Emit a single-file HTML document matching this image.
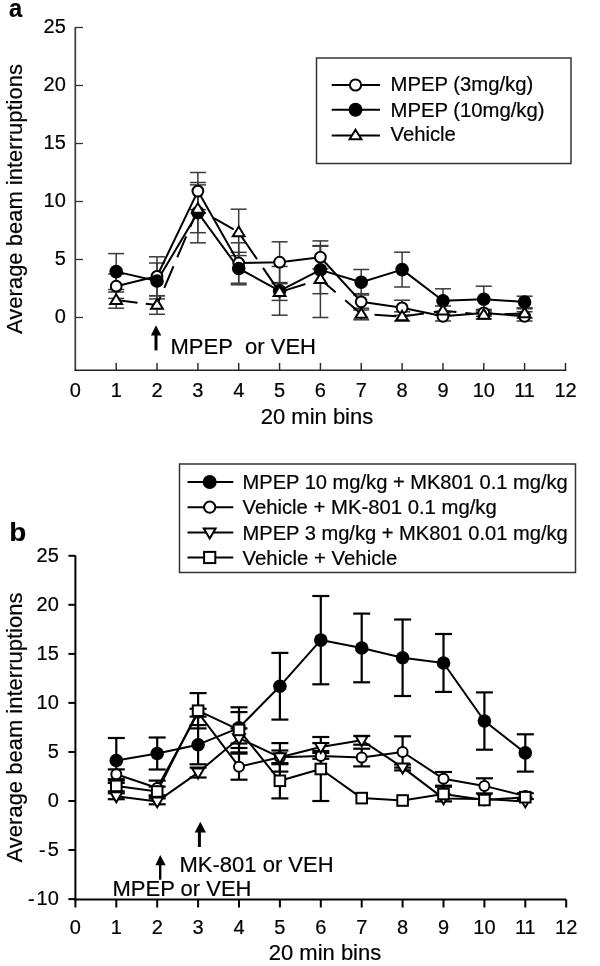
<!DOCTYPE html>
<html><head><meta charset="utf-8"><title>Figure</title>
<style>
html,body{margin:0;padding:0;background:#fff;}
body{width:600px;height:966px;overflow:hidden;}
svg{display:block;filter:grayscale(100%);}
text{font-family:"Liberation Sans", sans-serif;fill:#000;stroke:#000;stroke-width:0.2px;}
</style></head>
<body>
<svg width="600" height="966" viewBox="0 0 600 966">
<rect width="600" height="966" fill="#fff"/>
<g id="panelA">
<line x1="75.3" y1="27.0" x2="75.3" y2="371.0" stroke="#3a3a3a" stroke-width="1.7" />
<line x1="74.5" y1="370.3" x2="566.2" y2="370.3" stroke="#222" stroke-width="1.5" />
<line x1="75.3" y1="27.5" x2="83.0" y2="27.5" stroke="#333" stroke-width="1.3" />
<text x="65.8" y="33.1" font-size="20" text-anchor="end" font-weight="normal" >25</text>
<line x1="75.3" y1="85.5" x2="83.0" y2="85.5" stroke="#333" stroke-width="1.3" />
<text x="65.8" y="91.1" font-size="20" text-anchor="end" font-weight="normal" >20</text>
<line x1="75.3" y1="143.5" x2="83.0" y2="143.5" stroke="#333" stroke-width="1.3" />
<text x="65.8" y="149.1" font-size="20" text-anchor="end" font-weight="normal" >15</text>
<line x1="75.3" y1="201.5" x2="83.0" y2="201.5" stroke="#333" stroke-width="1.3" />
<text x="65.8" y="207.1" font-size="20" text-anchor="end" font-weight="normal" >10</text>
<line x1="75.3" y1="259.5" x2="83.0" y2="259.5" stroke="#333" stroke-width="1.3" />
<text x="65.8" y="265.1" font-size="20" text-anchor="end" font-weight="normal" >5</text>
<line x1="75.3" y1="317.5" x2="83.0" y2="317.5" stroke="#333" stroke-width="1.3" />
<text x="65.8" y="323.1" font-size="20" text-anchor="end" font-weight="normal" >0</text>
<text x="75.3" y="396.6" font-size="20" text-anchor="middle" font-weight="normal" >0</text>
<line x1="116.2" y1="363.0" x2="116.2" y2="370.3" stroke="#222" stroke-width="1.4" />
<text x="116.2" y="396.6" font-size="20" text-anchor="middle" font-weight="normal" >1</text>
<line x1="157.0" y1="363.0" x2="157.0" y2="370.3" stroke="#222" stroke-width="1.4" />
<text x="157.0" y="396.6" font-size="20" text-anchor="middle" font-weight="normal" >2</text>
<line x1="197.9" y1="363.0" x2="197.9" y2="370.3" stroke="#222" stroke-width="1.4" />
<text x="197.9" y="396.6" font-size="20" text-anchor="middle" font-weight="normal" >3</text>
<line x1="238.7" y1="363.0" x2="238.7" y2="370.3" stroke="#222" stroke-width="1.4" />
<text x="238.7" y="396.6" font-size="20" text-anchor="middle" font-weight="normal" >4</text>
<line x1="279.6" y1="363.0" x2="279.6" y2="370.3" stroke="#222" stroke-width="1.4" />
<text x="279.6" y="396.6" font-size="20" text-anchor="middle" font-weight="normal" >5</text>
<line x1="320.4" y1="363.0" x2="320.4" y2="370.3" stroke="#222" stroke-width="1.4" />
<text x="320.4" y="396.6" font-size="20" text-anchor="middle" font-weight="normal" >6</text>
<line x1="361.2" y1="363.0" x2="361.2" y2="370.3" stroke="#222" stroke-width="1.4" />
<text x="361.2" y="396.6" font-size="20" text-anchor="middle" font-weight="normal" >7</text>
<line x1="402.1" y1="363.0" x2="402.1" y2="370.3" stroke="#222" stroke-width="1.4" />
<text x="402.1" y="396.6" font-size="20" text-anchor="middle" font-weight="normal" >8</text>
<line x1="443.0" y1="363.0" x2="443.0" y2="370.3" stroke="#222" stroke-width="1.4" />
<text x="443.0" y="396.6" font-size="20" text-anchor="middle" font-weight="normal" >9</text>
<line x1="483.8" y1="363.0" x2="483.8" y2="370.3" stroke="#222" stroke-width="1.4" />
<text x="483.8" y="396.6" font-size="20" text-anchor="middle" font-weight="normal" >10</text>
<line x1="524.6" y1="363.0" x2="524.6" y2="370.3" stroke="#222" stroke-width="1.4" />
<text x="524.6" y="396.6" font-size="20" text-anchor="middle" font-weight="normal" >11</text>
<line x1="565.5" y1="363.0" x2="565.5" y2="370.3" stroke="#222" stroke-width="1.4" />
<text x="565.5" y="396.6" font-size="20" text-anchor="middle" font-weight="normal" >12</text>
<line x1="116.2" y1="274.0" x2="116.2" y2="298.4" stroke="#3a3a3a" stroke-width="1.5" />
<line x1="108.2" y1="274.0" x2="124.2" y2="274.0" stroke="#3a3a3a" stroke-width="1.5" />
<line x1="108.2" y1="298.4" x2="124.2" y2="298.4" stroke="#3a3a3a" stroke-width="1.5" />
<line x1="157.0" y1="256.8" x2="157.0" y2="295.8" stroke="#3a3a3a" stroke-width="1.5" />
<line x1="149.0" y1="256.8" x2="165.0" y2="256.8" stroke="#3a3a3a" stroke-width="1.5" />
<line x1="149.0" y1="295.8" x2="165.0" y2="295.8" stroke="#3a3a3a" stroke-width="1.5" />
<line x1="197.9" y1="172.5" x2="197.9" y2="209.6" stroke="#3a3a3a" stroke-width="1.5" />
<line x1="189.9" y1="172.5" x2="205.9" y2="172.5" stroke="#3a3a3a" stroke-width="1.5" />
<line x1="189.9" y1="209.6" x2="205.9" y2="209.6" stroke="#3a3a3a" stroke-width="1.5" />
<line x1="238.7" y1="242.8" x2="238.7" y2="283.2" stroke="#3a3a3a" stroke-width="1.5" />
<line x1="230.7" y1="242.8" x2="246.7" y2="242.8" stroke="#3a3a3a" stroke-width="1.5" />
<line x1="230.7" y1="283.2" x2="246.7" y2="283.2" stroke="#3a3a3a" stroke-width="1.5" />
<line x1="279.6" y1="241.8" x2="279.6" y2="282.6" stroke="#3a3a3a" stroke-width="1.5" />
<line x1="271.6" y1="241.8" x2="287.6" y2="241.8" stroke="#3a3a3a" stroke-width="1.5" />
<line x1="271.6" y1="282.6" x2="287.6" y2="282.6" stroke="#3a3a3a" stroke-width="1.5" />
<line x1="320.4" y1="245.6" x2="320.4" y2="268.8" stroke="#3a3a3a" stroke-width="1.5" />
<line x1="312.4" y1="245.6" x2="328.4" y2="245.6" stroke="#3a3a3a" stroke-width="1.5" />
<line x1="312.4" y1="268.8" x2="328.4" y2="268.8" stroke="#3a3a3a" stroke-width="1.5" />
<line x1="361.2" y1="293.7" x2="361.2" y2="310.0" stroke="#3a3a3a" stroke-width="1.5" />
<line x1="353.2" y1="293.7" x2="369.2" y2="293.7" stroke="#3a3a3a" stroke-width="1.5" />
<line x1="353.2" y1="310.0" x2="369.2" y2="310.0" stroke="#3a3a3a" stroke-width="1.5" />
<line x1="402.1" y1="300.2" x2="402.1" y2="315.3" stroke="#3a3a3a" stroke-width="1.5" />
<line x1="394.1" y1="300.2" x2="410.1" y2="300.2" stroke="#3a3a3a" stroke-width="1.5" />
<line x1="394.1" y1="315.3" x2="410.1" y2="315.3" stroke="#3a3a3a" stroke-width="1.5" />
<line x1="443.0" y1="311.7" x2="443.0" y2="321.0" stroke="#3a3a3a" stroke-width="1.5" />
<line x1="435.0" y1="311.7" x2="451.0" y2="311.7" stroke="#3a3a3a" stroke-width="1.5" />
<line x1="435.0" y1="321.0" x2="451.0" y2="321.0" stroke="#3a3a3a" stroke-width="1.5" />
<line x1="483.8" y1="309.4" x2="483.8" y2="316.3" stroke="#3a3a3a" stroke-width="1.5" />
<line x1="475.8" y1="309.4" x2="491.8" y2="309.4" stroke="#3a3a3a" stroke-width="1.5" />
<line x1="475.8" y1="316.3" x2="491.8" y2="316.3" stroke="#3a3a3a" stroke-width="1.5" />
<line x1="524.6" y1="311.7" x2="524.6" y2="321.0" stroke="#3a3a3a" stroke-width="1.5" />
<line x1="516.6" y1="311.7" x2="532.6" y2="311.7" stroke="#3a3a3a" stroke-width="1.5" />
<line x1="516.6" y1="321.0" x2="532.6" y2="321.0" stroke="#3a3a3a" stroke-width="1.5" />
<line x1="116.2" y1="253.6" x2="116.2" y2="289.5" stroke="#3a3a3a" stroke-width="1.5" />
<line x1="108.2" y1="253.6" x2="124.2" y2="253.6" stroke="#3a3a3a" stroke-width="1.5" />
<line x1="108.2" y1="289.5" x2="124.2" y2="289.5" stroke="#3a3a3a" stroke-width="1.5" />
<line x1="157.0" y1="263.0" x2="157.0" y2="298.9" stroke="#3a3a3a" stroke-width="1.5" />
<line x1="149.0" y1="263.0" x2="165.0" y2="263.0" stroke="#3a3a3a" stroke-width="1.5" />
<line x1="149.0" y1="298.9" x2="165.0" y2="298.9" stroke="#3a3a3a" stroke-width="1.5" />
<line x1="197.9" y1="182.5" x2="197.9" y2="242.8" stroke="#3a3a3a" stroke-width="1.5" />
<line x1="189.9" y1="182.5" x2="205.9" y2="182.5" stroke="#3a3a3a" stroke-width="1.5" />
<line x1="189.9" y1="242.8" x2="205.9" y2="242.8" stroke="#3a3a3a" stroke-width="1.5" />
<line x1="238.7" y1="252.3" x2="238.7" y2="284.8" stroke="#3a3a3a" stroke-width="1.5" />
<line x1="230.7" y1="252.3" x2="246.7" y2="252.3" stroke="#3a3a3a" stroke-width="1.5" />
<line x1="230.7" y1="284.8" x2="246.7" y2="284.8" stroke="#3a3a3a" stroke-width="1.5" />
<line x1="279.6" y1="266.5" x2="279.6" y2="315.2" stroke="#3a3a3a" stroke-width="1.5" />
<line x1="271.6" y1="266.5" x2="287.6" y2="266.5" stroke="#3a3a3a" stroke-width="1.5" />
<line x1="271.6" y1="315.2" x2="287.6" y2="315.2" stroke="#3a3a3a" stroke-width="1.5" />
<line x1="320.4" y1="246.2" x2="320.4" y2="293.7" stroke="#3a3a3a" stroke-width="1.5" />
<line x1="312.4" y1="246.2" x2="328.4" y2="246.2" stroke="#3a3a3a" stroke-width="1.5" />
<line x1="312.4" y1="293.7" x2="328.4" y2="293.7" stroke="#3a3a3a" stroke-width="1.5" />
<line x1="361.2" y1="269.5" x2="361.2" y2="295.0" stroke="#3a3a3a" stroke-width="1.5" />
<line x1="353.2" y1="269.5" x2="369.2" y2="269.5" stroke="#3a3a3a" stroke-width="1.5" />
<line x1="353.2" y1="295.0" x2="369.2" y2="295.0" stroke="#3a3a3a" stroke-width="1.5" />
<line x1="402.1" y1="252.2" x2="402.1" y2="287.0" stroke="#3a3a3a" stroke-width="1.5" />
<line x1="394.1" y1="252.2" x2="410.1" y2="252.2" stroke="#3a3a3a" stroke-width="1.5" />
<line x1="394.1" y1="287.0" x2="410.1" y2="287.0" stroke="#3a3a3a" stroke-width="1.5" />
<line x1="443.0" y1="288.8" x2="443.0" y2="312.5" stroke="#3a3a3a" stroke-width="1.5" />
<line x1="435.0" y1="288.8" x2="451.0" y2="288.8" stroke="#3a3a3a" stroke-width="1.5" />
<line x1="435.0" y1="312.5" x2="451.0" y2="312.5" stroke="#3a3a3a" stroke-width="1.5" />
<line x1="483.8" y1="286.2" x2="483.8" y2="312.2" stroke="#3a3a3a" stroke-width="1.5" />
<line x1="475.8" y1="286.2" x2="491.8" y2="286.2" stroke="#3a3a3a" stroke-width="1.5" />
<line x1="475.8" y1="312.2" x2="491.8" y2="312.2" stroke="#3a3a3a" stroke-width="1.5" />
<line x1="524.6" y1="296.2" x2="524.6" y2="307.8" stroke="#3a3a3a" stroke-width="1.5" />
<line x1="516.6" y1="296.2" x2="532.6" y2="296.2" stroke="#3a3a3a" stroke-width="1.5" />
<line x1="516.6" y1="307.8" x2="532.6" y2="307.8" stroke="#3a3a3a" stroke-width="1.5" />
<line x1="116.2" y1="292.0" x2="116.2" y2="308.2" stroke="#3a3a3a" stroke-width="1.5" />
<line x1="108.2" y1="292.0" x2="124.2" y2="292.0" stroke="#3a3a3a" stroke-width="1.5" />
<line x1="108.2" y1="308.2" x2="124.2" y2="308.2" stroke="#3a3a3a" stroke-width="1.5" />
<line x1="157.0" y1="295.7" x2="157.0" y2="314.3" stroke="#3a3a3a" stroke-width="1.5" />
<line x1="149.0" y1="295.7" x2="165.0" y2="295.7" stroke="#3a3a3a" stroke-width="1.5" />
<line x1="149.0" y1="314.3" x2="165.0" y2="314.3" stroke="#3a3a3a" stroke-width="1.5" />
<line x1="197.9" y1="184.9" x2="197.9" y2="232.7" stroke="#3a3a3a" stroke-width="1.5" />
<line x1="189.9" y1="184.9" x2="205.9" y2="184.9" stroke="#3a3a3a" stroke-width="1.5" />
<line x1="189.9" y1="232.7" x2="205.9" y2="232.7" stroke="#3a3a3a" stroke-width="1.5" />
<line x1="238.7" y1="209.2" x2="238.7" y2="255.6" stroke="#3a3a3a" stroke-width="1.5" />
<line x1="230.7" y1="209.2" x2="246.7" y2="209.2" stroke="#3a3a3a" stroke-width="1.5" />
<line x1="230.7" y1="255.6" x2="246.7" y2="255.6" stroke="#3a3a3a" stroke-width="1.5" />
<line x1="279.6" y1="283.7" x2="279.6" y2="300.4" stroke="#3a3a3a" stroke-width="1.5" />
<line x1="271.6" y1="283.7" x2="287.6" y2="283.7" stroke="#3a3a3a" stroke-width="1.5" />
<line x1="271.6" y1="300.4" x2="287.6" y2="300.4" stroke="#3a3a3a" stroke-width="1.5" />
<line x1="320.4" y1="240.9" x2="320.4" y2="317.5" stroke="#3a3a3a" stroke-width="1.5" />
<line x1="312.4" y1="240.9" x2="328.4" y2="240.9" stroke="#3a3a3a" stroke-width="1.5" />
<line x1="312.4" y1="317.5" x2="328.4" y2="317.5" stroke="#3a3a3a" stroke-width="1.5" />
<line x1="361.2" y1="308.2" x2="361.2" y2="319.8" stroke="#3a3a3a" stroke-width="1.5" />
<line x1="353.2" y1="308.2" x2="369.2" y2="308.2" stroke="#3a3a3a" stroke-width="1.5" />
<line x1="353.2" y1="319.8" x2="369.2" y2="319.8" stroke="#3a3a3a" stroke-width="1.5" />
<line x1="402.1" y1="311.8" x2="402.1" y2="321.1" stroke="#3a3a3a" stroke-width="1.5" />
<line x1="394.1" y1="311.8" x2="410.1" y2="311.8" stroke="#3a3a3a" stroke-width="1.5" />
<line x1="394.1" y1="321.1" x2="410.1" y2="321.1" stroke="#3a3a3a" stroke-width="1.5" />
<line x1="443.0" y1="306.0" x2="443.0" y2="315.3" stroke="#3a3a3a" stroke-width="1.5" />
<line x1="435.0" y1="306.0" x2="451.0" y2="306.0" stroke="#3a3a3a" stroke-width="1.5" />
<line x1="435.0" y1="315.3" x2="451.0" y2="315.3" stroke="#3a3a3a" stroke-width="1.5" />
<line x1="483.8" y1="310.8" x2="483.8" y2="318.9" stroke="#3a3a3a" stroke-width="1.5" />
<line x1="475.8" y1="310.8" x2="491.8" y2="310.8" stroke="#3a3a3a" stroke-width="1.5" />
<line x1="475.8" y1="318.9" x2="491.8" y2="318.9" stroke="#3a3a3a" stroke-width="1.5" />
<line x1="524.6" y1="308.8" x2="524.6" y2="318.1" stroke="#3a3a3a" stroke-width="1.5" />
<line x1="516.6" y1="308.8" x2="532.6" y2="308.8" stroke="#3a3a3a" stroke-width="1.5" />
<line x1="516.6" y1="318.1" x2="532.6" y2="318.1" stroke="#3a3a3a" stroke-width="1.5" />
<polyline points="116.2,286.2 157.0,276.3 197.9,191.1 238.7,263.0 279.6,262.2 320.4,257.2 361.2,301.8 402.1,307.8 443.0,316.3 483.8,312.9 524.6,316.3" fill="none" stroke="#000" stroke-width="2" stroke-linejoin="round" />
<polyline points="116.2,271.6 157.0,281.0 197.9,212.6 238.7,268.5 279.6,290.8 320.4,269.9 361.2,282.2 402.1,269.6 443.0,300.7 483.8,299.2 524.6,302.0" fill="none" stroke="#000" stroke-width="2" stroke-linejoin="round" />
<polyline points="116.2,300.1 157.0,305.0" fill="none" stroke="#000" stroke-width="2" stroke-linejoin="round" stroke-dasharray="21.5,8.3,100"/>
<polyline points="157.0,305.0 197.9,208.8" fill="none" stroke="#000" stroke-width="2" stroke-linejoin="round" stroke-dasharray="9,9.7,23.4,9.8,22.7,10,100"/>
<polyline points="197.9,208.8 238.7,232.4" fill="none" stroke="#000" stroke-width="2" stroke-linejoin="round" stroke-dasharray="9,9.5,22.8,100"/>
<polyline points="238.7,232.4 279.6,292.1" fill="none" stroke="#000" stroke-width="2" stroke-linejoin="round" stroke-dasharray="32.6,10.4,100"/>
<polyline points="279.6,292.1 320.4,279.2" fill="none" stroke="#000" stroke-width="2" stroke-linejoin="round" stroke-dasharray="27,100"/>
<polyline points="320.4,279.2 361.2,314.0" fill="none" stroke="#000" stroke-width="2" stroke-linejoin="round" stroke-dasharray="20,12.6,100"/>
<polyline points="361.2,314.0 402.1,316.5" fill="none" stroke="#000" stroke-width="2" stroke-linejoin="round" stroke-dasharray="0,13.4,21.8,100"/>
<polyline points="402.1,316.5 443.0,310.7" fill="none" stroke="#000" stroke-width="2" stroke-linejoin="round" stroke-dasharray="22,10,100"/>
<polyline points="443.0,310.7 483.8,314.8" fill="none" stroke="#000" stroke-width="2" stroke-linejoin="round" stroke-dasharray="13.5,9,7,100"/>
<polyline points="483.8,314.8 524.6,313.4" fill="none" stroke="#000" stroke-width="2" stroke-linejoin="round" stroke-dasharray="8,12.8,100"/>
<circle cx="116.2" cy="286.2" r="5.40" fill="#fff" stroke="#000" stroke-width="2.0"/>
<circle cx="157.0" cy="276.3" r="5.40" fill="#fff" stroke="#000" stroke-width="2.0"/>
<circle cx="197.9" cy="191.1" r="5.40" fill="#fff" stroke="#000" stroke-width="2.0"/>
<circle cx="238.7" cy="263.0" r="5.40" fill="#fff" stroke="#000" stroke-width="2.0"/>
<circle cx="279.6" cy="262.2" r="5.40" fill="#fff" stroke="#000" stroke-width="2.0"/>
<circle cx="320.4" cy="257.2" r="5.40" fill="#fff" stroke="#000" stroke-width="2.0"/>
<circle cx="361.2" cy="301.8" r="5.40" fill="#fff" stroke="#000" stroke-width="2.0"/>
<circle cx="402.1" cy="307.8" r="5.40" fill="#fff" stroke="#000" stroke-width="2.0"/>
<circle cx="443.0" cy="316.3" r="5.40" fill="#fff" stroke="#000" stroke-width="2.0"/>
<circle cx="483.8" cy="312.9" r="5.40" fill="#fff" stroke="#000" stroke-width="2.0"/>
<circle cx="524.6" cy="316.3" r="5.40" fill="#fff" stroke="#000" stroke-width="2.0"/>
<circle cx="116.2" cy="271.6" r="6.8" fill="#000"/>
<circle cx="157.0" cy="281.0" r="6.8" fill="#000"/>
<circle cx="197.9" cy="212.6" r="6.8" fill="#000"/>
<circle cx="238.7" cy="268.5" r="6.8" fill="#000"/>
<circle cx="279.6" cy="290.8" r="6.8" fill="#000"/>
<circle cx="320.4" cy="269.9" r="6.8" fill="#000"/>
<circle cx="361.2" cy="282.2" r="6.8" fill="#000"/>
<circle cx="402.1" cy="269.6" r="6.8" fill="#000"/>
<circle cx="443.0" cy="300.7" r="6.8" fill="#000"/>
<circle cx="483.8" cy="299.2" r="6.8" fill="#000"/>
<circle cx="524.6" cy="302.0" r="6.8" fill="#000"/>
<polygon points="116.15,294.34 122.05,303.94 110.25,303.94" fill="#fff" stroke="#000" stroke-width="2.0" stroke-linejoin="miter"/>
<polygon points="157.00,299.21 162.90,308.81 151.10,308.81" fill="#fff" stroke="#000" stroke-width="2.0" stroke-linejoin="miter"/>
<polygon points="197.85,203.05 203.75,212.65 191.95,212.65" fill="#fff" stroke="#000" stroke-width="2.0" stroke-linejoin="miter"/>
<polygon points="238.70,226.60 244.60,236.20 232.80,236.20" fill="#fff" stroke="#000" stroke-width="2.0" stroke-linejoin="miter"/>
<polygon points="279.55,286.34 285.45,295.94 273.65,295.94" fill="#fff" stroke="#000" stroke-width="2.0" stroke-linejoin="miter"/>
<polygon points="320.40,273.46 326.30,283.06 314.50,283.06" fill="#fff" stroke="#000" stroke-width="2.0" stroke-linejoin="miter"/>
<polygon points="361.25,308.26 367.15,317.86 355.35,317.86" fill="#fff" stroke="#000" stroke-width="2.0" stroke-linejoin="miter"/>
<polygon points="402.10,310.70 408.00,320.30 396.20,320.30" fill="#fff" stroke="#000" stroke-width="2.0" stroke-linejoin="miter"/>
<polygon points="442.95,304.90 448.85,314.50 437.05,314.50" fill="#fff" stroke="#000" stroke-width="2.0" stroke-linejoin="miter"/>
<polygon points="483.80,309.07 489.70,318.67 477.90,318.67" fill="#fff" stroke="#000" stroke-width="2.0" stroke-linejoin="miter"/>
<polygon points="524.65,307.68 530.55,317.28 518.75,317.28" fill="#fff" stroke="#000" stroke-width="2.0" stroke-linejoin="miter"/>
<rect x="316.5" y="58" width="254.5" height="105.5" fill="none" stroke="#333" stroke-width="1.5"/>
<line x1="331.7" y1="85.0" x2="380.0" y2="85.0" stroke="#000" stroke-width="2" />
<circle cx="355.5" cy="85.0" r="5.60" fill="#fff" stroke="#000" stroke-width="2.0"/>
<text x="390.5" y="91.4" font-size="20.3" text-anchor="start" font-weight="normal" >MPEP (3mg/kg)</text>
<line x1="331.7" y1="109.7" x2="380.0" y2="109.7" stroke="#000" stroke-width="2" />
<circle cx="355.5" cy="109.7" r="7.0" fill="#000"/>
<text x="390.5" y="116.5" font-size="20.3" text-anchor="start" font-weight="normal" >MPEP (10mg/kg)</text>
<line x1="331.7" y1="135.5" x2="380.0" y2="135.5" stroke="#000" stroke-width="2" />
<polygon points="355.50,129.74 361.40,139.34 349.60,139.34" fill="#fff" stroke="#000" stroke-width="2.0" stroke-linejoin="miter"/>
<text x="390.5" y="141.4" font-size="20.3" text-anchor="start" font-weight="normal" >Vehicle</text>
<text x="170.5" y="353.5" font-size="22" text-anchor="start" font-weight="normal" >MPEP&#160;&#160;or VEH</text>
<polygon points="156,325.3 161.3,335.5 150.9,335.5" fill="#000"/>
<line x1="156.0" y1="334.0" x2="156.0" y2="350.4" stroke="#000" stroke-width="3" />
<text x="317.0" y="424.0" font-size="22" text-anchor="middle" font-weight="normal" >20 min bins</text>
<text x="-199.0" y="22.0" font-size="22" text-anchor="middle" font-weight="normal" transform="rotate(-90)">Average beam interruptions</text>
<text x="0" y="0" font-size="26" font-weight="bold" transform="translate(8.9,17) scale(0.91,1.02)">a</text>
</g>
<g id="panelB">
<line x1="75.4" y1="555.5" x2="75.4" y2="900.5" stroke="#000" stroke-width="2" />
<line x1="74.4" y1="899.5" x2="566.2" y2="899.5" stroke="#000" stroke-width="2" />
<line x1="68.4" y1="555.8" x2="75.4" y2="555.8" stroke="#000" stroke-width="2" />
<text x="58.8" y="561.8" font-size="20" text-anchor="end" font-weight="normal" >25</text>
<line x1="68.4" y1="604.8" x2="75.4" y2="604.8" stroke="#000" stroke-width="2" />
<text x="58.8" y="610.8" font-size="20" text-anchor="end" font-weight="normal" >20</text>
<line x1="68.4" y1="653.9" x2="75.4" y2="653.9" stroke="#000" stroke-width="2" />
<text x="58.8" y="659.9" font-size="20" text-anchor="end" font-weight="normal" >15</text>
<line x1="68.4" y1="702.9" x2="75.4" y2="702.9" stroke="#000" stroke-width="2" />
<text x="58.8" y="708.9" font-size="20" text-anchor="end" font-weight="normal" >10</text>
<line x1="68.4" y1="752.0" x2="75.4" y2="752.0" stroke="#000" stroke-width="2" />
<text x="58.8" y="758.0" font-size="20" text-anchor="end" font-weight="normal" >5</text>
<line x1="68.4" y1="801.0" x2="75.4" y2="801.0" stroke="#000" stroke-width="2" />
<text x="58.8" y="807.0" font-size="20" text-anchor="end" font-weight="normal" >0</text>
<line x1="68.4" y1="850.0" x2="75.4" y2="850.0" stroke="#000" stroke-width="2" />
<text x="58.8" y="856.0" font-size="20" text-anchor="end" font-weight="normal" ><tspan dy="1">-</tspan><tspan dx="2" dy="-1">5</tspan></text>
<line x1="68.4" y1="899.1" x2="75.4" y2="899.1" stroke="#000" stroke-width="2" />
<text x="58.8" y="905.1" font-size="20" text-anchor="end" font-weight="normal" ><tspan dy="1">-</tspan><tspan dx="2" dy="-1">10</tspan></text>
<line x1="75.4" y1="899.5" x2="75.4" y2="907.5" stroke="#000" stroke-width="2" />
<text x="75.4" y="934.0" font-size="20" text-anchor="middle" font-weight="normal" >0</text>
<line x1="116.3" y1="899.5" x2="116.3" y2="907.5" stroke="#000" stroke-width="2" />
<text x="116.3" y="934.0" font-size="20" text-anchor="middle" font-weight="normal" >1</text>
<line x1="157.2" y1="899.5" x2="157.2" y2="907.5" stroke="#000" stroke-width="2" />
<text x="157.2" y="934.0" font-size="20" text-anchor="middle" font-weight="normal" >2</text>
<line x1="198.1" y1="899.5" x2="198.1" y2="907.5" stroke="#000" stroke-width="2" />
<text x="198.1" y="934.0" font-size="20" text-anchor="middle" font-weight="normal" >3</text>
<line x1="239.0" y1="899.5" x2="239.0" y2="907.5" stroke="#000" stroke-width="2" />
<text x="239.0" y="934.0" font-size="20" text-anchor="middle" font-weight="normal" >4</text>
<line x1="279.9" y1="899.5" x2="279.9" y2="907.5" stroke="#000" stroke-width="2" />
<text x="279.9" y="934.0" font-size="20" text-anchor="middle" font-weight="normal" >5</text>
<line x1="320.8" y1="899.5" x2="320.8" y2="907.5" stroke="#000" stroke-width="2" />
<text x="320.8" y="934.0" font-size="20" text-anchor="middle" font-weight="normal" >6</text>
<line x1="361.7" y1="899.5" x2="361.7" y2="907.5" stroke="#000" stroke-width="2" />
<text x="361.7" y="934.0" font-size="20" text-anchor="middle" font-weight="normal" >7</text>
<line x1="402.6" y1="899.5" x2="402.6" y2="907.5" stroke="#000" stroke-width="2" />
<text x="402.6" y="934.0" font-size="20" text-anchor="middle" font-weight="normal" >8</text>
<line x1="443.5" y1="899.5" x2="443.5" y2="907.5" stroke="#000" stroke-width="2" />
<text x="443.5" y="934.0" font-size="20" text-anchor="middle" font-weight="normal" >9</text>
<line x1="484.4" y1="899.5" x2="484.4" y2="907.5" stroke="#000" stroke-width="2" />
<text x="484.4" y="934.0" font-size="20" text-anchor="middle" font-weight="normal" >10</text>
<line x1="525.3" y1="899.5" x2="525.3" y2="907.5" stroke="#000" stroke-width="2" />
<text x="525.3" y="934.0" font-size="20" text-anchor="middle" font-weight="normal" >11</text>
<line x1="566.2" y1="899.5" x2="566.2" y2="907.5" stroke="#000" stroke-width="2" />
<text x="566.2" y="934.0" font-size="20" text-anchor="middle" font-weight="normal" >12</text>
<line x1="116.3" y1="738.0" x2="116.3" y2="782.9" stroke="#000" stroke-width="2.2" />
<line x1="107.8" y1="738.0" x2="124.8" y2="738.0" stroke="#000" stroke-width="2.2" />
<line x1="107.8" y1="782.9" x2="124.8" y2="782.9" stroke="#000" stroke-width="2.2" />
<line x1="157.2" y1="737.5" x2="157.2" y2="769.5" stroke="#000" stroke-width="2.2" />
<line x1="148.7" y1="737.5" x2="165.7" y2="737.5" stroke="#000" stroke-width="2.2" />
<line x1="148.7" y1="769.5" x2="165.7" y2="769.5" stroke="#000" stroke-width="2.2" />
<line x1="198.1" y1="725.1" x2="198.1" y2="764.3" stroke="#000" stroke-width="2.2" />
<line x1="189.6" y1="725.1" x2="206.6" y2="725.1" stroke="#000" stroke-width="2.2" />
<line x1="189.6" y1="764.3" x2="206.6" y2="764.3" stroke="#000" stroke-width="2.2" />
<line x1="239.0" y1="712.1" x2="239.0" y2="743.5" stroke="#000" stroke-width="2.2" />
<line x1="230.5" y1="712.1" x2="247.5" y2="712.1" stroke="#000" stroke-width="2.2" />
<line x1="230.5" y1="743.5" x2="247.5" y2="743.5" stroke="#000" stroke-width="2.2" />
<line x1="279.9" y1="652.9" x2="279.9" y2="719.6" stroke="#000" stroke-width="2.2" />
<line x1="271.4" y1="652.9" x2="288.4" y2="652.9" stroke="#000" stroke-width="2.2" />
<line x1="271.4" y1="719.6" x2="288.4" y2="719.6" stroke="#000" stroke-width="2.2" />
<line x1="320.8" y1="596.0" x2="320.8" y2="684.3" stroke="#000" stroke-width="2.2" />
<line x1="312.3" y1="596.0" x2="329.3" y2="596.0" stroke="#000" stroke-width="2.2" />
<line x1="312.3" y1="684.3" x2="329.3" y2="684.3" stroke="#000" stroke-width="2.2" />
<line x1="361.7" y1="613.6" x2="361.7" y2="682.3" stroke="#000" stroke-width="2.2" />
<line x1="353.2" y1="613.6" x2="370.2" y2="613.6" stroke="#000" stroke-width="2.2" />
<line x1="353.2" y1="682.3" x2="370.2" y2="682.3" stroke="#000" stroke-width="2.2" />
<line x1="402.6" y1="619.5" x2="402.6" y2="696.0" stroke="#000" stroke-width="2.2" />
<line x1="394.1" y1="619.5" x2="411.1" y2="619.5" stroke="#000" stroke-width="2.2" />
<line x1="394.1" y1="696.0" x2="411.1" y2="696.0" stroke="#000" stroke-width="2.2" />
<line x1="443.5" y1="634.0" x2="443.5" y2="691.9" stroke="#000" stroke-width="2.2" />
<line x1="435.0" y1="634.0" x2="452.0" y2="634.0" stroke="#000" stroke-width="2.2" />
<line x1="435.0" y1="691.9" x2="452.0" y2="691.9" stroke="#000" stroke-width="2.2" />
<line x1="484.4" y1="692.4" x2="484.4" y2="749.7" stroke="#000" stroke-width="2.2" />
<line x1="475.9" y1="692.4" x2="492.9" y2="692.4" stroke="#000" stroke-width="2.2" />
<line x1="475.9" y1="749.7" x2="492.9" y2="749.7" stroke="#000" stroke-width="2.2" />
<line x1="525.3" y1="734.3" x2="525.3" y2="771.6" stroke="#000" stroke-width="2.2" />
<line x1="516.8" y1="734.3" x2="533.8" y2="734.3" stroke="#000" stroke-width="2.2" />
<line x1="516.8" y1="771.6" x2="533.8" y2="771.6" stroke="#000" stroke-width="2.2" />
<line x1="116.3" y1="769.4" x2="116.3" y2="779.2" stroke="#000" stroke-width="2.2" />
<line x1="107.8" y1="769.4" x2="124.8" y2="769.4" stroke="#000" stroke-width="2.2" />
<line x1="107.8" y1="779.2" x2="124.8" y2="779.2" stroke="#000" stroke-width="2.2" />
<line x1="157.2" y1="780.6" x2="157.2" y2="795.3" stroke="#000" stroke-width="2.2" />
<line x1="148.7" y1="780.6" x2="165.7" y2="780.6" stroke="#000" stroke-width="2.2" />
<line x1="148.7" y1="795.3" x2="165.7" y2="795.3" stroke="#000" stroke-width="2.2" />
<line x1="198.1" y1="708.8" x2="198.1" y2="716.6" stroke="#000" stroke-width="2.2" />
<line x1="189.6" y1="708.8" x2="206.6" y2="708.8" stroke="#000" stroke-width="2.2" />
<line x1="189.6" y1="716.6" x2="206.6" y2="716.6" stroke="#000" stroke-width="2.2" />
<line x1="239.0" y1="753.6" x2="239.0" y2="779.7" stroke="#000" stroke-width="2.2" />
<line x1="230.5" y1="753.6" x2="247.5" y2="753.6" stroke="#000" stroke-width="2.2" />
<line x1="230.5" y1="779.7" x2="247.5" y2="779.7" stroke="#000" stroke-width="2.2" />
<line x1="279.9" y1="743.1" x2="279.9" y2="771.6" stroke="#000" stroke-width="2.2" />
<line x1="271.4" y1="743.1" x2="288.4" y2="743.1" stroke="#000" stroke-width="2.2" />
<line x1="271.4" y1="771.6" x2="288.4" y2="771.6" stroke="#000" stroke-width="2.2" />
<line x1="320.8" y1="752.9" x2="320.8" y2="758.8" stroke="#000" stroke-width="2.2" />
<line x1="312.3" y1="752.9" x2="329.3" y2="752.9" stroke="#000" stroke-width="2.2" />
<line x1="312.3" y1="758.8" x2="329.3" y2="758.8" stroke="#000" stroke-width="2.2" />
<line x1="361.7" y1="748.7" x2="361.7" y2="766.4" stroke="#000" stroke-width="2.2" />
<line x1="353.2" y1="748.7" x2="370.2" y2="748.7" stroke="#000" stroke-width="2.2" />
<line x1="353.2" y1="766.4" x2="370.2" y2="766.4" stroke="#000" stroke-width="2.2" />
<line x1="402.6" y1="736.3" x2="402.6" y2="767.6" stroke="#000" stroke-width="2.2" />
<line x1="394.1" y1="736.3" x2="411.1" y2="736.3" stroke="#000" stroke-width="2.2" />
<line x1="394.1" y1="767.6" x2="411.1" y2="767.6" stroke="#000" stroke-width="2.2" />
<line x1="443.5" y1="772.0" x2="443.5" y2="785.7" stroke="#000" stroke-width="2.2" />
<line x1="435.0" y1="772.0" x2="452.0" y2="772.0" stroke="#000" stroke-width="2.2" />
<line x1="435.0" y1="785.7" x2="452.0" y2="785.7" stroke="#000" stroke-width="2.2" />
<line x1="484.4" y1="778.3" x2="484.4" y2="793.4" stroke="#000" stroke-width="2.2" />
<line x1="475.9" y1="778.3" x2="492.9" y2="778.3" stroke="#000" stroke-width="2.2" />
<line x1="475.9" y1="793.4" x2="492.9" y2="793.4" stroke="#000" stroke-width="2.2" />
<line x1="525.3" y1="793.2" x2="525.3" y2="799.0" stroke="#000" stroke-width="2.2" />
<line x1="516.8" y1="793.2" x2="533.8" y2="793.2" stroke="#000" stroke-width="2.2" />
<line x1="516.8" y1="799.0" x2="533.8" y2="799.0" stroke="#000" stroke-width="2.2" />
<line x1="116.3" y1="793.3" x2="116.3" y2="799.2" stroke="#000" stroke-width="2.2" />
<line x1="107.8" y1="793.3" x2="124.8" y2="793.3" stroke="#000" stroke-width="2.2" />
<line x1="107.8" y1="799.2" x2="124.8" y2="799.2" stroke="#000" stroke-width="2.2" />
<line x1="157.2" y1="798.4" x2="157.2" y2="804.3" stroke="#000" stroke-width="2.2" />
<line x1="148.7" y1="798.4" x2="165.7" y2="798.4" stroke="#000" stroke-width="2.2" />
<line x1="148.7" y1="804.3" x2="165.7" y2="804.3" stroke="#000" stroke-width="2.2" />
<line x1="198.1" y1="767.6" x2="198.1" y2="777.5" stroke="#000" stroke-width="2.2" />
<line x1="189.6" y1="767.6" x2="206.6" y2="767.6" stroke="#000" stroke-width="2.2" />
<line x1="189.6" y1="777.5" x2="206.6" y2="777.5" stroke="#000" stroke-width="2.2" />
<line x1="239.0" y1="728.4" x2="239.0" y2="748.0" stroke="#000" stroke-width="2.2" />
<line x1="230.5" y1="728.4" x2="247.5" y2="728.4" stroke="#000" stroke-width="2.2" />
<line x1="230.5" y1="748.0" x2="247.5" y2="748.0" stroke="#000" stroke-width="2.2" />
<line x1="279.9" y1="750.5" x2="279.9" y2="764.2" stroke="#000" stroke-width="2.2" />
<line x1="271.4" y1="750.5" x2="288.4" y2="750.5" stroke="#000" stroke-width="2.2" />
<line x1="271.4" y1="764.2" x2="288.4" y2="764.2" stroke="#000" stroke-width="2.2" />
<line x1="320.8" y1="743.1" x2="320.8" y2="751.0" stroke="#000" stroke-width="2.2" />
<line x1="312.3" y1="743.1" x2="329.3" y2="743.1" stroke="#000" stroke-width="2.2" />
<line x1="312.3" y1="751.0" x2="329.3" y2="751.0" stroke="#000" stroke-width="2.2" />
<line x1="361.7" y1="735.9" x2="361.7" y2="744.7" stroke="#000" stroke-width="2.2" />
<line x1="353.2" y1="735.9" x2="370.2" y2="735.9" stroke="#000" stroke-width="2.2" />
<line x1="353.2" y1="744.7" x2="370.2" y2="744.7" stroke="#000" stroke-width="2.2" />
<line x1="402.6" y1="764.5" x2="402.6" y2="770.4" stroke="#000" stroke-width="2.2" />
<line x1="394.1" y1="764.5" x2="411.1" y2="764.5" stroke="#000" stroke-width="2.2" />
<line x1="394.1" y1="770.4" x2="411.1" y2="770.4" stroke="#000" stroke-width="2.2" />
<line x1="116.3" y1="780.5" x2="116.3" y2="791.3" stroke="#000" stroke-width="2.2" />
<line x1="107.8" y1="780.5" x2="124.8" y2="780.5" stroke="#000" stroke-width="2.2" />
<line x1="107.8" y1="791.3" x2="124.8" y2="791.3" stroke="#000" stroke-width="2.2" />
<line x1="157.2" y1="786.6" x2="157.2" y2="796.4" stroke="#000" stroke-width="2.2" />
<line x1="148.7" y1="786.6" x2="165.7" y2="786.6" stroke="#000" stroke-width="2.2" />
<line x1="148.7" y1="796.4" x2="165.7" y2="796.4" stroke="#000" stroke-width="2.2" />
<line x1="198.1" y1="693.1" x2="198.1" y2="728.4" stroke="#000" stroke-width="2.2" />
<line x1="189.6" y1="693.1" x2="206.6" y2="693.1" stroke="#000" stroke-width="2.2" />
<line x1="189.6" y1="728.4" x2="206.6" y2="728.4" stroke="#000" stroke-width="2.2" />
<line x1="239.0" y1="707.3" x2="239.0" y2="752.4" stroke="#000" stroke-width="2.2" />
<line x1="230.5" y1="707.3" x2="247.5" y2="707.3" stroke="#000" stroke-width="2.2" />
<line x1="230.5" y1="752.4" x2="247.5" y2="752.4" stroke="#000" stroke-width="2.2" />
<line x1="279.9" y1="763.1" x2="279.9" y2="798.4" stroke="#000" stroke-width="2.2" />
<line x1="271.4" y1="763.1" x2="288.4" y2="763.1" stroke="#000" stroke-width="2.2" />
<line x1="271.4" y1="798.4" x2="288.4" y2="798.4" stroke="#000" stroke-width="2.2" />
<line x1="320.8" y1="737.0" x2="320.8" y2="801.0" stroke="#000" stroke-width="2.2" />
<line x1="312.3" y1="737.0" x2="329.3" y2="737.0" stroke="#000" stroke-width="2.2" />
<line x1="312.3" y1="801.0" x2="329.3" y2="801.0" stroke="#000" stroke-width="2.2" />
<line x1="443.5" y1="786.7" x2="443.5" y2="801.4" stroke="#000" stroke-width="2.2" />
<line x1="435.0" y1="786.7" x2="452.0" y2="786.7" stroke="#000" stroke-width="2.2" />
<line x1="435.0" y1="801.4" x2="452.0" y2="801.4" stroke="#000" stroke-width="2.2" />
<polyline points="116.3,760.5 157.2,753.5 198.1,744.7 239.0,727.8 279.9,686.2 320.8,640.1 361.7,648.0 402.6,657.8 443.5,663.0 484.4,721.0 525.3,752.9" fill="none" stroke="#000" stroke-width="2" stroke-linejoin="round" />
<polyline points="116.3,774.3 157.2,788.0 198.1,712.7 239.0,766.7 279.9,757.3 320.8,755.9 361.7,757.5 402.6,752.0 443.5,778.8 484.4,785.9 525.3,796.1" fill="none" stroke="#000" stroke-width="2" stroke-linejoin="round" />
<polyline points="116.3,796.3 157.2,801.4 198.1,772.6 239.0,738.2 279.9,757.3 320.8,747.0 361.7,740.3 402.6,767.4 443.5,798.4 484.4,799.0 525.3,801.4" fill="none" stroke="#000" stroke-width="2" stroke-linejoin="round" />
<polyline points="116.3,785.9 157.2,791.5 198.1,710.7 239.0,729.9 279.9,780.8 320.8,769.0 361.7,798.1 402.6,800.5 443.5,794.0 484.4,800.0 525.3,797.2" fill="none" stroke="#000" stroke-width="2" stroke-linejoin="round" />
<circle cx="116.3" cy="760.5" r="6.8" fill="#000"/>
<circle cx="157.2" cy="753.5" r="6.8" fill="#000"/>
<circle cx="198.1" cy="744.7" r="6.8" fill="#000"/>
<circle cx="239.0" cy="727.8" r="6.8" fill="#000"/>
<circle cx="279.9" cy="686.2" r="6.8" fill="#000"/>
<circle cx="320.8" cy="640.1" r="6.8" fill="#000"/>
<circle cx="361.7" cy="648.0" r="6.8" fill="#000"/>
<circle cx="402.6" cy="657.8" r="6.8" fill="#000"/>
<circle cx="443.5" cy="663.0" r="6.8" fill="#000"/>
<circle cx="484.4" cy="721.0" r="6.8" fill="#000"/>
<circle cx="525.3" cy="752.9" r="6.8" fill="#000"/>
<circle cx="116.3" cy="774.3" r="5.00" fill="#fff" stroke="#000" stroke-width="2.0"/>
<circle cx="157.2" cy="788.0" r="5.00" fill="#fff" stroke="#000" stroke-width="2.0"/>
<circle cx="198.1" cy="712.7" r="5.00" fill="#fff" stroke="#000" stroke-width="2.0"/>
<circle cx="239.0" cy="766.7" r="5.00" fill="#fff" stroke="#000" stroke-width="2.0"/>
<circle cx="279.9" cy="757.3" r="5.00" fill="#fff" stroke="#000" stroke-width="2.0"/>
<circle cx="320.8" cy="755.9" r="5.00" fill="#fff" stroke="#000" stroke-width="2.0"/>
<circle cx="361.7" cy="757.5" r="5.00" fill="#fff" stroke="#000" stroke-width="2.0"/>
<circle cx="402.6" cy="752.0" r="5.00" fill="#fff" stroke="#000" stroke-width="2.0"/>
<circle cx="443.5" cy="778.8" r="5.00" fill="#fff" stroke="#000" stroke-width="2.0"/>
<circle cx="484.4" cy="785.9" r="5.00" fill="#fff" stroke="#000" stroke-width="2.0"/>
<circle cx="525.3" cy="796.1" r="5.00" fill="#fff" stroke="#000" stroke-width="2.0"/>
<polygon points="110.40,792.29 122.20,792.29 116.30,802.29" fill="#fff" stroke="#000" stroke-width="2.0" stroke-linejoin="miter"/>
<polygon points="151.30,797.39 163.10,797.39 157.20,807.39" fill="#fff" stroke="#000" stroke-width="2.0" stroke-linejoin="miter"/>
<polygon points="192.20,768.55 204.00,768.55 198.10,778.55" fill="#fff" stroke="#000" stroke-width="2.0" stroke-linejoin="miter"/>
<polygon points="233.10,734.22 244.90,734.22 239.00,744.22" fill="#fff" stroke="#000" stroke-width="2.0" stroke-linejoin="miter"/>
<polygon points="274.00,753.35 285.80,753.35 279.90,763.35" fill="#fff" stroke="#000" stroke-width="2.0" stroke-linejoin="miter"/>
<polygon points="314.90,743.04 326.70,743.04 320.80,753.04" fill="#fff" stroke="#000" stroke-width="2.0" stroke-linejoin="miter"/>
<polygon points="355.80,736.28 367.60,736.28 361.70,746.28" fill="#fff" stroke="#000" stroke-width="2.0" stroke-linejoin="miter"/>
<polygon points="396.70,763.45 408.50,763.45 402.60,773.45" fill="#fff" stroke="#000" stroke-width="2.0" stroke-linejoin="miter"/>
<polygon points="437.60,794.35 449.40,794.35 443.50,804.35" fill="#fff" stroke="#000" stroke-width="2.0" stroke-linejoin="miter"/>
<polygon points="478.50,795.04 490.30,795.04 484.40,805.04" fill="#fff" stroke="#000" stroke-width="2.0" stroke-linejoin="miter"/>
<polygon points="519.40,797.39 531.20,797.39 525.30,807.39" fill="#fff" stroke="#000" stroke-width="2.0" stroke-linejoin="miter"/>
<rect x="111.0" y="780.6" width="10.6" height="10.6" fill="#fff" stroke="#000" stroke-width="2.0"/>
<rect x="151.9" y="786.2" width="10.6" height="10.6" fill="#fff" stroke="#000" stroke-width="2.0"/>
<rect x="192.8" y="705.4" width="10.6" height="10.6" fill="#fff" stroke="#000" stroke-width="2.0"/>
<rect x="233.7" y="724.6" width="10.6" height="10.6" fill="#fff" stroke="#000" stroke-width="2.0"/>
<rect x="274.6" y="775.5" width="10.6" height="10.6" fill="#fff" stroke="#000" stroke-width="2.0"/>
<rect x="315.5" y="763.7" width="10.6" height="10.6" fill="#fff" stroke="#000" stroke-width="2.0"/>
<rect x="356.4" y="792.8" width="10.6" height="10.6" fill="#fff" stroke="#000" stroke-width="2.0"/>
<rect x="397.3" y="795.2" width="10.6" height="10.6" fill="#fff" stroke="#000" stroke-width="2.0"/>
<rect x="438.2" y="788.7" width="10.6" height="10.6" fill="#fff" stroke="#000" stroke-width="2.0"/>
<rect x="479.1" y="794.7" width="10.6" height="10.6" fill="#fff" stroke="#000" stroke-width="2.0"/>
<rect x="520.0" y="791.9" width="10.6" height="10.6" fill="#fff" stroke="#000" stroke-width="2.0"/>
<rect x="179.5" y="464" width="396" height="108.5" fill="none" stroke="#333" stroke-width="1.5"/>
<line x1="187.5" y1="482.0" x2="233.3" y2="482.0" stroke="#000" stroke-width="2" />
<circle cx="209.7" cy="482.0" r="7.0" fill="#000"/>
<text x="242.5" y="489.0" font-size="20.1" text-anchor="start" font-weight="normal" >MPEP 10 mg/kg + MK801 0.1 mg/kg</text>
<line x1="187.5" y1="507.2" x2="233.3" y2="507.2" stroke="#000" stroke-width="2" />
<circle cx="209.7" cy="507.2" r="5.60" fill="#fff" stroke="#000" stroke-width="2.0"/>
<text x="242.5" y="514.2" font-size="20.3" text-anchor="start" font-weight="normal" >Vehicle + MK-801 0.1 mg/kg</text>
<line x1="187.5" y1="532.5" x2="233.3" y2="532.5" stroke="#000" stroke-width="2" />
<polygon points="203.80,528.50 215.60,528.50 209.70,538.50" fill="#fff" stroke="#000" stroke-width="2.0" stroke-linejoin="miter"/>
<text x="242.5" y="539.5" font-size="20.1" text-anchor="start" font-weight="normal" >MPEP 3 mg/kg + MK801 0.01 mg/kg</text>
<line x1="187.5" y1="557.5" x2="233.3" y2="557.5" stroke="#000" stroke-width="2" />
<rect x="204.1" y="551.9" width="11.2" height="11.2" fill="#fff" stroke="#000" stroke-width="2.0"/>
<text x="242.5" y="564.5" font-size="20.4" text-anchor="start" font-weight="normal" >Vehicle + Vehicle</text>
<text x="179.5" y="872.4" font-size="22" text-anchor="start" font-weight="normal" >MK-801 or VEH</text>
<polygon points="200.3,821.7 206,832.6 194.7,832.6" fill="#000"/>
<line x1="199.4" y1="831.0" x2="199.4" y2="847.0" stroke="#000" stroke-width="3" />
<text x="112.5" y="896.0" font-size="22" text-anchor="start" font-weight="normal" >MPEP or VEH</text>
<polygon points="160.2,855 165.7,865.2 155.4,865.2" fill="#000"/>
<line x1="160.2" y1="864.0" x2="160.2" y2="879.7" stroke="#000" stroke-width="2.4" />
<text x="325.0" y="960.0" font-size="22" text-anchor="middle" font-weight="normal" >20 min bins</text>
<text x="-727.5" y="22.3" font-size="22" text-anchor="middle" font-weight="normal" transform="rotate(-90)">Average beam interruptions</text>
<text x="0" y="0" font-size="26" font-weight="bold" transform="translate(9.2,541.3) scale(1.07,1)">b</text>
</g>
</svg>
</body></html>
